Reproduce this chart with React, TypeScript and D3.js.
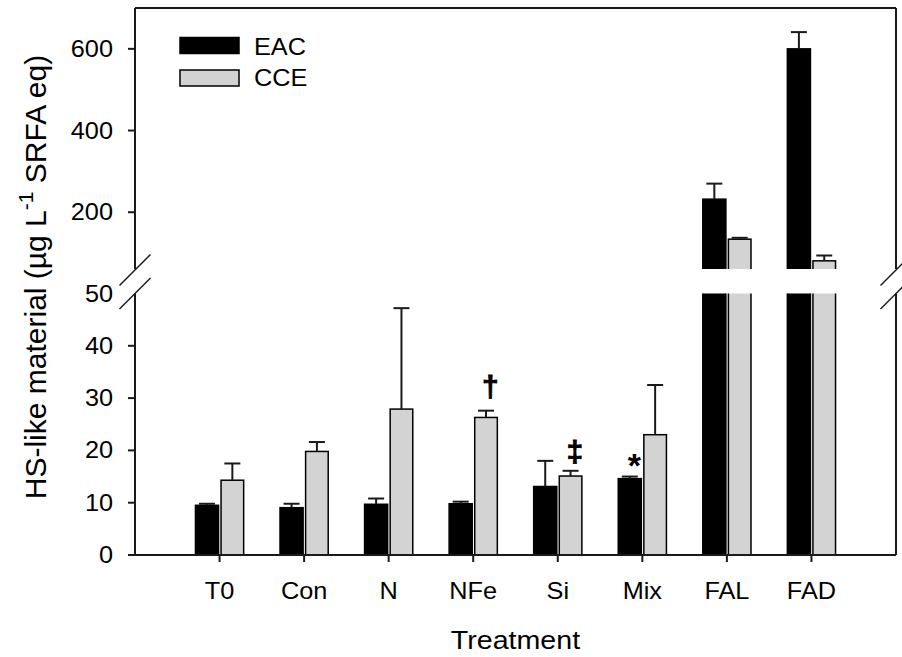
import React from 'react';
import * as d3 from 'd3';

// treatments and bar values (mean + upper SE)
const categories = ['T0', 'Con', 'N', 'NFe', 'Si', 'Mix', 'FAL', 'FAD'];
const eacMean = [9.5, 9.05, 9.7, 9.8, 13.1, 14.6, 232, 600];
const eacSE = [0.3, 0.75, 1.1, 0.4, 4.9, 0.4, 38, 41];
const cceMean = [14.3, 19.8, 27.9, 26.3, 15.1, 23.0, 134, 81];
const cceSE = [3.2, 1.8, 19.3, 1.3, 1.0, 9.5, 3.4, 13];
const seriesNames = ['EAC', 'CCE'];
const seriesFill = ['#000000', '#d3d3d3'];
const lowTicks = [0, 10, 20, 30, 40, 50];
const highTicks = [200, 400, 600];
// significance marks: category, series index, symbol, level (value at symbol bottom)
const sigMarks = [
    { cat: 'NFe', series: 1, symbol: '\u2020', level: 30.2 },
    { cat: 'Si', series: 1, symbol: '\u2021', level: 17.8 },
    { cat: 'Mix', series: 0, symbol: '*', level: 17.2 }
];

const W = 902, H = 657;
const plot = { left: 135, right: 896, top: 8, bottom: 555, lowTop: 293.5, highBottom: 269 };
const font = '"Liberation Sans", Arial, sans-serif';
const ink = '#1a1a1a';
const barW = 0.285;

const x = d3.scaleLinear().domain([0, categories.length + 1]).range([plot.left, plot.right]);
const yLow = d3.scaleLinear().domain([0, 50]).range([plot.bottom, plot.lowTop]);
const yHigh = d3.scaleLinear().domain([61, 700]).range([plot.highBottom, plot.top]);

// text is slightly wider than Arial in the original
function Label({ x, y, size, anchor = 'middle', children, weight = 'normal', rotate = 0 }) {
    return (
        <text
            transform={`translate(${x},${y}) rotate(${rotate}) scale(1.1,1)`}
            fontFamily={font} fontSize={size} textAnchor={anchor} fontWeight={weight} fill="#000"
        >{children}</text>
    );
}

function Bar({ x0, x1, value, fill, stroke }) {
    const low = value > 50 ? yLow(53) : yLow(value);
    return (
        <g>
            <rect x={x0} y={low} width={x1 - x0} height={yLow(0) - low}
                  fill={fill} stroke={stroke} strokeWidth={1.5} clipPath="url(#clipLow)" />
            {value > 50 &&
                <rect x={x0} y={yHigh(value)} width={x1 - x0} height={yHigh(40) - yHigh(value)}
                      fill={fill} stroke={stroke} strokeWidth={1.5} clipPath="url(#clipHigh)" />}
        </g>
    );
}

function ErrorBar({ cx, value, se }) {
    const y = value > 50 ? yHigh : yLow;
    const y0 = y(value), y1 = y(value + se);
    return (
        <g stroke={ink} strokeWidth={2}>
            <line x1={cx} x2={cx} y1={y0} y2={y1} />
            <line x1={cx - 8} x2={cx + 8} y1={y1} y2={y1} />
        </g>
    );
}

function BreakMark({ cx, cy }) {
    return <line x1={cx - 15.5} y1={cy + 15.5} x2={cx + 15.5} y2={cy - 15.5} stroke={ink} strokeWidth={1.5} />;
}

export default function App() {
    const bars = categories.map((c, i) => {
        const pos = i + 1;
        const ex0 = x(pos - barW), ex1 = x(pos) - 1;
        const cx0 = x(pos) + 1.5, cx1 = x(pos + barW);
        return (
            <g key={c}>
                <Bar x0={ex0} x1={ex1} value={eacMean[i]} fill={seriesFill[0]} stroke="#000" />
                <Bar x0={cx0} x1={cx1} value={cceMean[i]} fill={seriesFill[1]} stroke="#000" />
                <ErrorBar cx={(ex0 + ex1) / 2} value={eacMean[i]} se={eacSE[i]} />
                <ErrorBar cx={(cx0 + cx1) / 2} value={cceMean[i]} se={cceSE[i]} />
            </g>
        );
    });

    return (
        <svg width={W} height={H} style={{ position: 'absolute', left: 0, top: 0, display: 'block', background: '#fff' }}>
            <defs>
                <clipPath id="clipLow"><rect x={0} y={plot.lowTop} width={W} height={plot.bottom - plot.lowTop + 2} /></clipPath>
                <clipPath id="clipHigh"><rect x={0} y={0} width={W} height={plot.highBottom} /></clipPath>
            </defs>

            {bars}

            {sigMarks.map(m => {
                const i = categories.indexOf(m.cat);
                const cx = m.series === 0 ? x(i + 1 - barW / 2) + 4 : x(i + 1 + barW / 2) + 5;
                const star = m.symbol === '*';
                return (
                    <text key={m.cat} x={cx} y={yLow(m.level) + (star ? 12 : 0)}
                          fontFamily={font} fontSize={star ? 34 : 30} fontWeight="bold" textAnchor="middle"
                          stroke="#000" strokeWidth={star ? 0 : 0.8}>{m.symbol}</text>
                );
            })}

            {/* axes and frame */}
            <g stroke={ink} strokeWidth={2} fill="none">
                <line x1={plot.left} x2={plot.right} y1={plot.bottom} y2={plot.bottom} />
                <line x1={plot.left} x2={plot.right} y1={plot.top} y2={plot.top} />
                <line x1={plot.left} x2={plot.left} y1={plot.bottom} y2={plot.lowTop} />
                <line x1={plot.left} x2={plot.left} y1={plot.highBottom} y2={plot.top} />
                <line x1={plot.right} x2={plot.right} y1={plot.bottom} y2={plot.lowTop} />
                <line x1={plot.right} x2={plot.right} y1={plot.highBottom} y2={plot.top} />
                {lowTicks.slice(0, -1).map(t => <line key={t} x1={plot.left - 7} x2={plot.left} y1={yLow(t)} y2={yLow(t)} />)}
                {highTicks.map(t => <line key={t} x1={plot.left - 7} x2={plot.left} y1={yHigh(t)} y2={yHigh(t)} />)}
                {categories.map((c, i) => <line key={c} x1={x(i + 1)} x2={x(i + 1)} y1={plot.bottom} y2={plot.bottom + 7} />)}
            </g>
            <BreakMark cx={plot.left} cy={plot.highBottom + 1} />
            <BreakMark cx={plot.left} cy={plot.lowTop} />
            <BreakMark cx={plot.right} cy={plot.highBottom + 1} />
            <BreakMark cx={plot.right} cy={plot.lowTop} />

            {lowTicks.map(t => <Label key={t} x={113} y={yLow(t) + 8} size={23} anchor="end">{t}</Label>)}
            {highTicks.map(t => <Label key={t} x={113} y={yHigh(t) + 8} size={23} anchor="end">{t}</Label>)}
            {categories.map((c, i) => <Label key={c} x={x(i + 1)} y={599} size={23}>{c}</Label>)}

            <Label x={(plot.left + plot.right) / 2} y={649} size={26}>Treatment</Label>
            <text transform={`translate(46,277) rotate(-90)`} fontFamily={font} fontSize={30} textAnchor="middle">
                HS-like material (µg L<tspan fontSize={21} dy={-13}>-1</tspan><tspan dy={13}> SRFA eq)</tspan>
            </text>

            {/* legend */}
            {seriesNames.map((s, i) => (
                <g key={s}>
                    <rect x={180} y={37.5 + i * 32.5} width={59} height={16} fill={seriesFill[i]} stroke="#000" strokeWidth={1.5} />
                    <Label x={254} y={55 + i * 31} size={23} anchor="start">{s}</Label>
                </g>
            ))}
        </svg>
    );
}
